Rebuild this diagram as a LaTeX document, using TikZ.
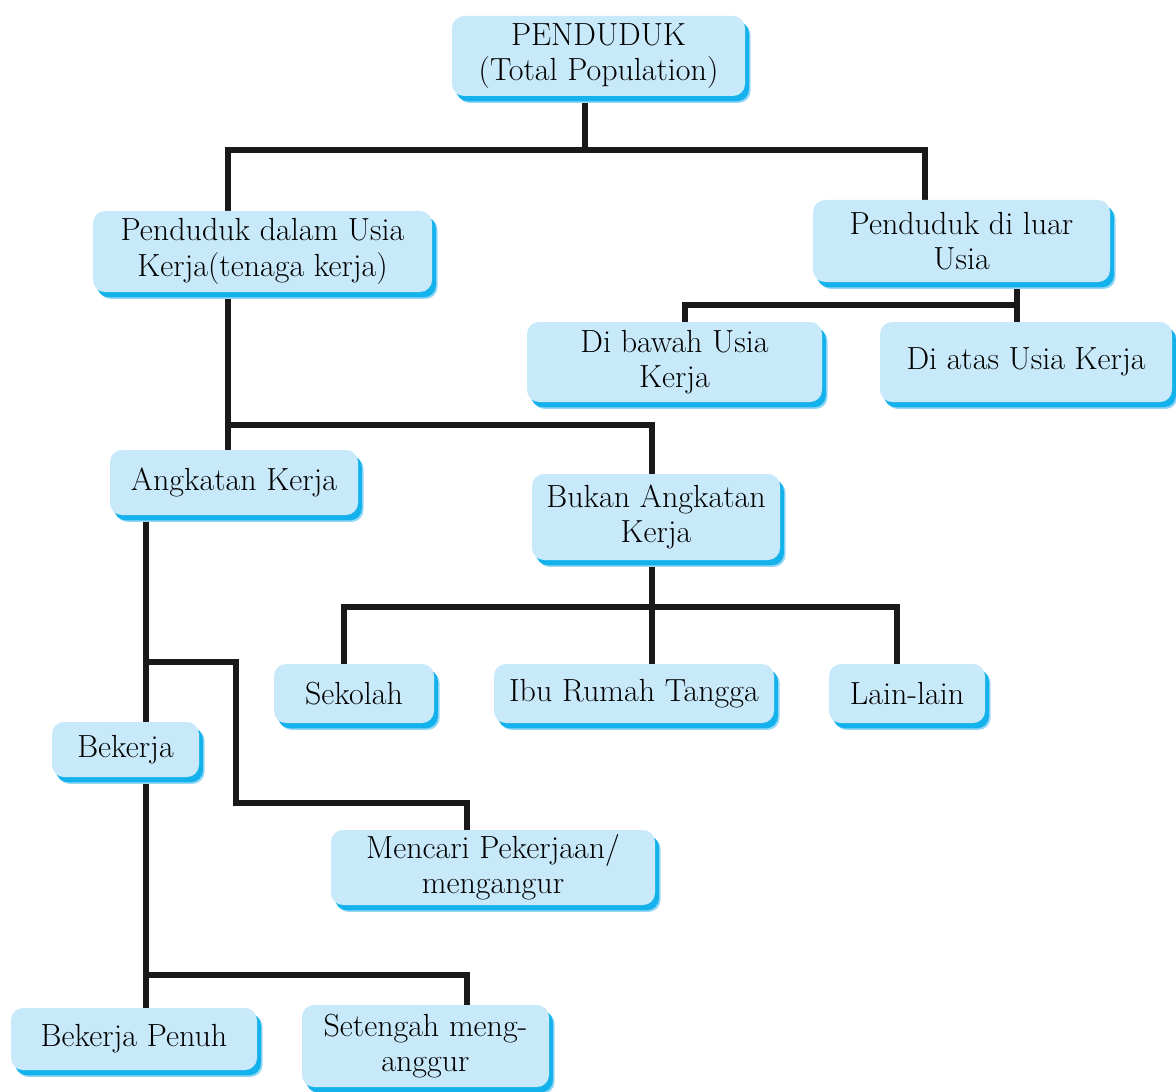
\documentclass[tikz,border=0pt]{standalone}
\usepackage{fontspec}
\usetikzlibrary{shadows,backgrounds}
\definecolor{boxfill}{RGB}{200,233,249}
\definecolor{shadowcyan}{RGB}{20,178,236}
\definecolor{shadowsoft}{RGB}{150,215,245}
\definecolor{linecol}{RGB}{25,25,25}
\tikzset{
  box/.style={fill=boxfill, rounded corners=9pt, inner sep=0pt, align=center,
    font=\fontsize{24}{26.5}\selectfont, text=black,
    drop shadow={shadow xshift=4.2pt, shadow yshift=-5.2pt, fill=shadowsoft, opacity=1},
    drop shadow={shadow xshift=3pt, shadow yshift=-4pt, fill=shadowcyan, opacity=1}},
  conn/.style={draw=linecol, line width=3.8pt}
}
\newcommand{\bx}[6]{\node[box, minimum width={#4*0.75pt}, minimum height={#5*0.75pt}] (#1) at (#2,#3) {#6};}
\begin{document}
\begin{tikzpicture}[x=0.75pt, y=-0.75pt]
\useasboundingbox (0,0) rectangle (1176,1091);
\bx{top}{598.5}{56}{293}{80}{PENDUDUK\\(Total Population)}
\bx{dalam}{262.5}{251.5}{339}{81}{Penduduk dalam Usia\\Kerja(tenaga kerja)}
\bx{luar}{961.5}{241}{297}{82}{Penduduk di luar\\Usia}
\bx{bawah}{674.5}{362}{295}{80}{Di bawah Usia\\Kerja}
\bx{atas}{1026}{362}{292}{80}{Di atas Usia Kerja}
\bx{angkatan}{234}{482.5}{248}{65}{Angkatan Kerja}
\bx{bukan}{656}{517}{248}{86}{Bukan Angkatan\\Kerja}
\bx{sekolah}{354}{693.5}{160}{59}{Sekolah}
\bx{ibu}{634}{693.5}{280}{59}{Ibu Rumah Tangga}
\bx{lain}{907}{693.5}{156}{59}{Lain-lain}
\bx{bekerja}{125.5}{749.5}{147}{55}{Bekerja}
\bx{mencari}{493}{867.5}{324}{75}{Mencari Pekerjaan/\\mengangur}
\bx{penuh}{134}{1039}{246}{62}{Bekerja Penuh}
\bx{setengah}{425.5}{1046}{247}{82}{Setengah meng-\\anggur}
\coordinate (j0) at (585,150);
\coordinate (jL) at (228,150);
\coordinate (jR) at (925,150);
\coordinate (k1) at (1017,305);
\coordinate (k2) at (685,305);
\coordinate (m1) at (228,425);
\coordinate (m2) at (652,425);
\coordinate (n0) at (652,607);
\coordinate (n1) at (344,607);
\coordinate (n2) at (897,607);
\coordinate (p1) at (146,662);
\coordinate (p2) at (236,662);
\coordinate (p3) at (236,803);
\coordinate (p4) at (467,803);
\coordinate (q1) at (146,975);
\coordinate (q2) at (467,975);
\begin{scope}[on background layer]
\draw[conn] (top.south -| j0) -- (j0);
\draw[conn] (dalam.north -| jL) -- (jL) -- (jR) -- (luar.north -| jR);
\draw[conn] (luar.south -| k1) -- (atas.north -| k1);
\draw[conn] (k1) -- (k2) -- (bawah.north -| k2);
\draw[conn] (dalam.south -| m1) -- (angkatan.north -| m1);
\draw[conn] (m1) -- (m2) -- (bukan.north -| m2);
\draw[conn] (bukan.south -| n0) -- (ibu.north -| n0);
\draw[conn] (sekolah.north -| n1) -- (n1) -- (n2) -- (lain.north -| n2);
\draw[conn] (angkatan.south -| p1) -- (bekerja.north -| p1);
\draw[conn] (p1) -- (p2) -- (p3) -- (p4) -- (mencari.north -| p4);
\draw[conn] (bekerja.south -| q1) -- (penuh.north -| q1);
\draw[conn] (q1) -- (q2) -- (setengah.north -| q2);
\end{scope}
\end{tikzpicture}
\end{document}
